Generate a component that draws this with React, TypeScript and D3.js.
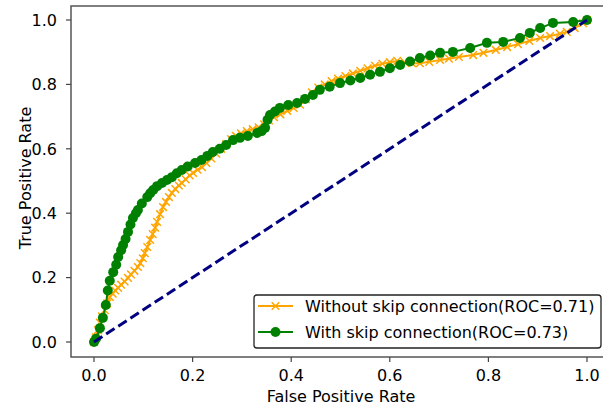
import * as d3 from "d3";
import React from "react";

// ROC points: [false positive rate, true positive rate]
const withSkip: [number, number][] = [
  [0.000, 0.000], [0.004, 0.010], [0.012, 0.043], [0.018, 0.075], [0.024, 0.115],
  [0.028, 0.160], [0.032, 0.190], [0.039, 0.217], [0.045, 0.240], [0.049, 0.264],
  [0.055, 0.285], [0.059, 0.301], [0.064, 0.320], [0.069, 0.342], [0.074, 0.365],
  [0.079, 0.385], [0.085, 0.400], [0.089, 0.410], [0.097, 0.430], [0.108, 0.450],
  [0.114, 0.462], [0.120, 0.472], [0.128, 0.484], [0.138, 0.494], [0.148, 0.503],
  [0.158, 0.512], [0.168, 0.524], [0.178, 0.534], [0.190, 0.545], [0.205, 0.556],
  [0.218, 0.565], [0.230, 0.578], [0.241, 0.590], [0.255, 0.600], [0.268, 0.612],
  [0.282, 0.627], [0.296, 0.634], [0.312, 0.640], [0.331, 0.649], [0.340, 0.655],
  [0.347, 0.665], [0.352, 0.690], [0.357, 0.705], [0.367, 0.716], [0.377, 0.727],
  [0.394, 0.736], [0.412, 0.742], [0.428, 0.755], [0.444, 0.767], [0.458, 0.783],
  [0.478, 0.793], [0.499, 0.804], [0.520, 0.812], [0.540, 0.820], [0.560, 0.830],
  [0.580, 0.839], [0.600, 0.850], [0.621, 0.860], [0.641, 0.871], [0.661, 0.882],
  [0.682, 0.890], [0.702, 0.898], [0.728, 0.901], [0.763, 0.913], [0.797, 0.929],
  [0.830, 0.932], [0.864, 0.944], [0.884, 0.960], [0.905, 0.975], [0.931, 0.991],
  [0.972, 0.994], [1.000, 1.000],
];

const withoutSkip: [number, number][] = [
  [0.000, 0.000], [0.004, 0.015], [0.008, 0.037], [0.012, 0.060], [0.016, 0.080],
  [0.022, 0.099], [0.027, 0.120], [0.032, 0.140], [0.038, 0.150], [0.043, 0.160],
  [0.049, 0.168], [0.055, 0.178], [0.062, 0.188], [0.069, 0.199], [0.075, 0.210],
  [0.082, 0.221], [0.089, 0.233], [0.094, 0.245], [0.099, 0.260], [0.103, 0.276],
  [0.108, 0.295], [0.114, 0.317], [0.119, 0.335], [0.124, 0.355], [0.128, 0.373],
  [0.134, 0.397], [0.140, 0.419], [0.146, 0.435], [0.152, 0.450], [0.158, 0.463],
  [0.165, 0.475], [0.172, 0.486], [0.178, 0.494], [0.186, 0.505], [0.194, 0.517],
  [0.201, 0.525], [0.210, 0.535], [0.219, 0.543], [0.228, 0.556], [0.238, 0.570],
  [0.248, 0.585], [0.258, 0.600], [0.268, 0.615], [0.278, 0.630], [0.288, 0.640],
  [0.298, 0.648], [0.310, 0.655], [0.322, 0.661], [0.334, 0.667], [0.345, 0.676],
  [0.355, 0.688], [0.365, 0.698], [0.378, 0.707], [0.392, 0.718], [0.405, 0.727],
  [0.418, 0.737], [0.430, 0.754], [0.442, 0.775], [0.455, 0.790], [0.468, 0.800],
  [0.482, 0.810], [0.495, 0.818], [0.510, 0.826], [0.525, 0.834], [0.540, 0.842],
  [0.555, 0.850], [0.570, 0.858], [0.585, 0.864], [0.600, 0.869], [0.615, 0.873],
  [0.630, 0.869], [0.645, 0.866], [0.661, 0.866], [0.680, 0.870], [0.702, 0.876],
  [0.720, 0.880], [0.740, 0.885], [0.769, 0.891], [0.790, 0.898], [0.815, 0.907],
  [0.838, 0.916], [0.860, 0.925], [0.883, 0.935], [0.905, 0.944], [0.925, 0.950],
  [0.945, 0.957], [0.959, 0.963], [0.975, 0.975], [0.992, 0.990], [1.000, 1.000],
];

const chance: [number, number][] = [[0, 0], [1, 1]];

const ticks = [0, 0.2, 0.4, 0.6, 0.8, 1.0];
const legendLabels = [
  "Without skip connection(ROC=0.71)",
  "With skip connection(ROC=0.73)",
];

const W = 603;
const H = 408;
const FONT = "DejaVu Sans, sans-serif";

const App = () => {
  const ref = React.useRef<SVGSVGElement>(null);

  React.useEffect(() => {
    const svg = d3.select(ref.current);
    svg.selectAll("*").remove();

    const left = 71, top = 6, bottom = 357, right = 612;
    const x = d3.scaleLinear().domain([0, 1]).range([94, 587]);
    const y = d3.scaleLinear().domain([0, 1]).range([342, 20]);

    svg.append("rect").attr("width", W).attr("height", H).attr("fill", "white");

    const line = d3.line<[number, number]>()
      .x(d => x(d[0]))
      .y(d => y(d[1]));

    // orange curve with x markers
    svg.append("path")
      .attr("d", line(withoutSkip))
      .attr("fill", "none")
      .attr("stroke", "#ffa500")
      .attr("stroke-width", 2);
    const xm = 3.8;
    const cross = (cx: number, cy: number) =>
      `M${cx - xm},${cy - xm}L${cx + xm},${cy + xm}M${cx - xm},${cy + xm}L${cx + xm},${cy - xm}`;
    svg.append("g").selectAll("path")
      .data(withoutSkip)
      .enter()
      .append("path")
      .attr("d", d => cross(x(d[0]), y(d[1])))
      .attr("stroke", "#ffa500")
      .attr("stroke-width", 1.5)
      .attr("fill", "none");

    // green curve with circle markers
    svg.append("path")
      .attr("d", line(withSkip))
      .attr("fill", "none")
      .attr("stroke", "#008000")
      .attr("stroke-width", 2);
    svg.append("g").selectAll("circle")
      .data(withSkip)
      .enter()
      .append("circle")
      .attr("cx", d => x(d[0]))
      .attr("cy", d => y(d[1]))
      .attr("r", 5)
      .attr("fill", "#008000");

    // chance line
    svg.append("path")
      .attr("d", line(chance))
      .attr("fill", "none")
      .attr("stroke", "#000080")
      .attr("stroke-width", 3)
      .attr("stroke-dasharray", "10,4.5");

    // spines
    svg.append("path")
      .attr("d", `M${right},${top}H${left}V${bottom}H${right}`)
      .attr("fill", "none")
      .attr("stroke", "#555")
      .attr("stroke-width", 1.5);

    // x ticks
    const gx = svg.append("g");
    ticks.forEach(t => {
      gx.append("line")
        .attr("x1", x(t)).attr("x2", x(t))
        .attr("y1", bottom).attr("y2", bottom + 5)
        .attr("stroke", "#444").attr("stroke-width", 1.2);
      gx.append("text")
        .attr("x", x(t)).attr("y", 381)
        .attr("text-anchor", "middle")
        .attr("font-family", FONT).attr("font-size", 16)
        .attr("fill", "#000")
        .text(t.toFixed(1));
    });

    // y ticks
    const gy = svg.append("g");
    ticks.forEach(t => {
      gy.append("line")
        .attr("x1", left - 5).attr("x2", left)
        .attr("y1", y(t)).attr("y2", y(t))
        .attr("stroke", "#444").attr("stroke-width", 1.2);
      gy.append("text")
        .attr("x", 57).attr("y", y(t))
        .attr("dy", "0.36em")
        .attr("text-anchor", "end")
        .attr("font-family", FONT).attr("font-size", 16)
        .attr("fill", "#000")
        .text(t.toFixed(1));
    });

    // axis labels
    svg.append("text")
      .attr("x", (left + 611) / 2).attr("y", 402)
      .attr("text-anchor", "middle")
      .attr("font-family", FONT).attr("font-size", 16)
      .attr("fill", "#000")
      .text("False Positive Rate");
    svg.append("text")
      .attr("transform", "translate(31,178) rotate(-90)")
      .attr("text-anchor", "middle")
      .attr("font-family", FONT).attr("font-size", 16)
      .attr("fill", "#000")
      .text("True Positive Rate");

    // legend
    const lg = svg.append("g");
    lg.append("rect")
      .attr("x", 254).attr("y", 295)
      .attr("width", 347).attr("height", 53)
      .attr("rx", 3)
      .attr("fill", "white")
      .attr("stroke", "#222")
      .attr("stroke-width", 1.3);
    const rows = [306, 332];
    const colors = ["#ffa500", "#008000"];
    rows.forEach((ry, i) => {
      lg.append("line")
        .attr("x1", 258).attr("x2", 293)
        .attr("y1", ry).attr("y2", ry)
        .attr("stroke", colors[i]).attr("stroke-width", 2);
      if (i === 0) {
        lg.append("path")
          .attr("d", cross(275.5, ry))
          .attr("stroke", colors[i]).attr("stroke-width", 1.5);
      } else {
        lg.append("circle")
          .attr("cx", 275.5).attr("cy", ry).attr("r", 5)
          .attr("fill", colors[i]);
      }
      lg.append("text")
        .attr("x", 305).attr("y", ry)
        .attr("dy", "0.36em")
        .attr("font-family", FONT).attr("font-size", 16)
        .attr("fill", "#000")
        .text(legendLabels[i]);
    });
  }, []);

  return (
    <div style={{ position: "absolute", left: 0, top: 0 }}>
      <svg ref={ref} width={W} height={H} style={{ display: "block" }} />
    </div>
  );
};

export default App;
